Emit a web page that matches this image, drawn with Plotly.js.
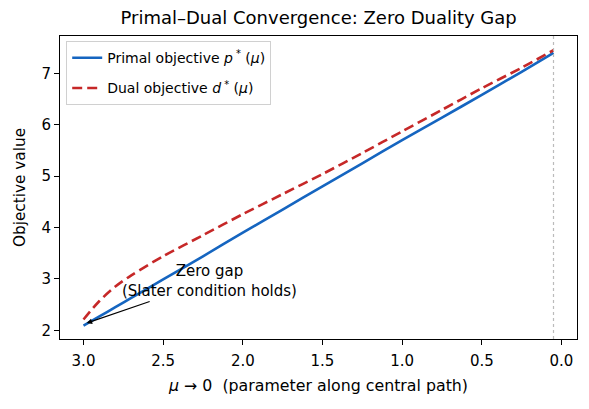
<!DOCTYPE html>
<html>
<head>
<meta charset="utf-8">
<script src="https://cdn.plot.ly/plotly-3.0.1.min.js"></script>
<style>html,body{margin:0;padding:0;background:#fff;}#chart{width:589px;height:409px;}</style>
</head>
<body>
<div id="chart"></div>
<script>
const mu = [3.0, 2.9, 2.8, 2.7, 2.5, 2.25, 2.0, 1.75, 1.5, 1.25, 1.0, 0.75, 0.5, 0.25, 0.05];
const primal = [2.09, 2.27, 2.45, 2.63, 2.99, 3.44, 3.90, 4.35, 4.80, 5.25, 5.70, 6.14, 6.58, 7.03, 7.40];
const dual = [2.21, 2.57, 2.85, 3.07, 3.44, 3.85, 4.26, 4.65, 5.04, 5.45, 5.87, 6.29, 6.71, 7.11, 7.45];
const muFinal = 0.05;
const xTicks = [3.0, 2.5, 2.0, 1.5, 1.0, 0.5, 0.0];
const yTicks = [2, 3, 4, 5, 6, 7];

const font = "DejaVu Sans, sans-serif";
const traces = [
  {x: mu, y: primal, mode: 'lines', name: 'Primal objective <i>p</i><sup> *</sup> (<i>μ</i>)',
   legendgroup: 'a', line: {color: '#1565c0', width: 2.6, shape: 'spline', smoothing: 0.8}},
  {x: mu, y: dual, mode: 'lines', name: 'Dual objective <i>d</i><sup> *</sup> (<i>μ</i>)',
   legendgroup: 'b', line: {color: '#c62828', width: 2.6, dash: '10px,5px', shape: 'spline', smoothing: 0.8}}
];
const layout = {
  width: 589, height: 409,
  margin: {l: 60, r: 12, t: 36, b: 70},
  paper_bgcolor: '#fff', plot_bgcolor: '#fff',
  font: {family: font, size: 15, color: '#000'},
  title: {text: 'Primal–Dual Convergence: Zero Duality Gap', font: {size: 18, family: font},
          x: 0.541, xanchor: 'center', y: 0.972, yanchor: 'top'},
  showlegend: true,
  legend: {x: 0.012, y: 0.983, xanchor: 'left', yanchor: 'top', bgcolor: 'rgba(255,255,255,0.9)',
           bordercolor: '#d0d0d0', borderwidth: 1, font: {size: 14, family: font},
           traceorder: 'grouped', tracegroupgap: 9},
  xaxis: {range: [3.1475, -0.0975], tickvals: xTicks, ticktext: xTicks.map(v => v.toFixed(1)),
          showgrid: false, zeroline: false, showline: true, linecolor: '#000', linewidth: 1,
          mirror: true, ticks: 'outside', ticklen: 5, tickcolor: '#000',
          tickfont: {size: 15, family: font}, ticklabelstandoff: 3,
          title: {text: '<i>μ</i> → 0  (parameter along central path)', font: {size: 15.8, family: font}, standoff: 10}},
  yaxis: {range: [1.83, 7.727], tickvals: yTicks, showgrid: false, zeroline: false,
          showline: true, linecolor: '#000', linewidth: 1, mirror: true, ticks: 'outside',
          ticklen: 5, tickcolor: '#000', tickfont: {size: 15, family: font},
          title: {text: 'Objective value', font: {size: 15.3, family: font}, standoff: 12}},
  shapes: [{type: 'line', xref: 'x', yref: 'paper', x0: muFinal, x1: muFinal, y0: 0, y1: 1,
            line: {color: '#bbbbbb', width: 1.2, dash: 'dot'}}],
  annotations: [{x: mu[0] - 0.02, y: primal[0] + 0.05, xref: 'x', yref: 'y',
                 text: 'Zero gap<br>(Slater condition holds)', showarrow: true,
                 ax: 123, ay: -42, arrowhead: 2, arrowsize: 1, arrowwidth: 1.1, arrowcolor: '#000',
                 font: {size: 15, family: font, color: '#000'}, align: 'center'}]
};
Plotly.newPlot('chart', traces, layout, {displayModeBar: false, staticPlot: true});
</script>
</body>
</html>
